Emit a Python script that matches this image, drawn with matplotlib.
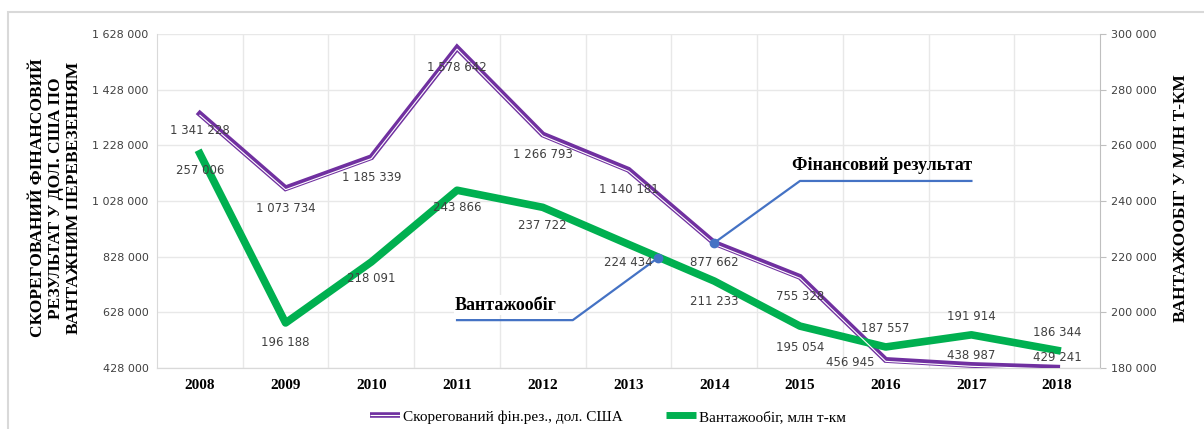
import numpy as np
import matplotlib
matplotlib.use('Agg')
import matplotlib.pyplot as plt
import matplotlib.transforms as mtransforms
from matplotlib.patches import Rectangle
from matplotlib.lines import Line2D
from matplotlib.legend_handler import HandlerTuple

#===data=======================================
years = ['2008', '2009', '2010', '2011', '2012', '2013', '2014', '2015', '2016', '2017', '2018']
fin_res = [1341228, 1073734, 1185339, 1578642, 1266793, 1140181, 877662, 755328, 456945, 438987, 429241]
freight = [257006, 196188, 218091, 243866, 237722, 224434, 211233, 195054, 187557, 191914, 186344]
left_ticks = [428000, 628000, 828000, 1028000, 1228000, 1428000, 1628000]
right_ticks = [180000, 200000, 220000, 240000, 260000, 280000, 300000]
# callout lines (x in category index, y on left axis)
callout1_x = [3, 4.35, 5.34]
callout1_y = [600000, 600000, 823000]
callout2_x = [6, 7, 9]
callout2_y = [877662, 1100000, 1100000]
# label offsets in pixels (dx, dy)
fin_off = [(0, -17), (0, -20), (0, -20), (0, -20), (0, -20), (0, -20), (0, -20), (0, -20), (-35, -3), (0, 9), (0, 10)]
fr_off = [(0, -17), (0, -20), (0, -17), (0, -17), (0, -18), (0, -18), (0, -20), (0, -21), (0, 18), (0, 18), (0, 18)]

def fmt(v):
  return '{:,}'.format(v).replace(',', ' ')

fig = plt.figure(figsize=(12.04, 4.29), dpi=100)
fig.patches.append(Rectangle((8/1204, -0.1), 1.2, 1-12/429+0.1, transform=fig.transFigure,
                             fill=False, edgecolor='#d9d9d9', lw=1.5))
ax = fig.add_axes([157/1204, 1-368/429, 943/1204, 334/429])
ax2 = ax.twinx()
x = np.arange(len(years))

ax.set_xlim(-0.5, len(years)-0.5)
ax.set_ylim(428000, 1628000)
ax2.set_ylim(180000, 300000)
ax.set_yticks(left_ticks)
ax.set_yticklabels([fmt(v) for v in left_ticks], fontsize=8, color='#404040')
ax2.set_yticks(right_ticks)
ax2.set_yticklabels([fmt(v) for v in right_ticks], fontsize=8, color='#404040')
ax.set_xticks(x)
ax.set_xticklabels(years, family='Liberation Serif', fontweight='bold', fontsize=11)
ax.tick_params(axis='y', length=0, pad=6)
ax.tick_params(axis='x', length=0, pad=8)
ax2.tick_params(axis='y', length=4, color='#bfbfbf', pad=4)
for a in (ax, ax2):
  a.spines['top'].set_visible(False)
  a.spines['left'].set_color('#d9d9d9')
  a.spines['right'].set_color('#bfbfbf')
  a.spines['bottom'].set_color('#d9d9d9')
ax.spines['right'].set_visible(False)
ax2.spines['left'].set_visible(False)

# grid
for v in left_ticks:
  ax.axhline(v, color='#e8e8e8', lw=1, zorder=0)
for b in np.arange(0.5, len(years)-1, 1.0):
  ax.axvline(b, color='#e8e8e8', lw=1, zorder=0)

def to2(v):
  #left-axis value -> right-axis value
  return ax2.transData.inverted().transform(ax.transData.transform((0, v)))[1]

# purple double line
ax2.plot(x, [to2(v) for v in fin_res], color='#7030a0', lw=4.2, zorder=3, solid_joinstyle='miter')
off = mtransforms.offset_copy(ax2.transData, fig=fig, x=0, y=-1.0, units='points')
ax2.plot(x, [to2(v) for v in fin_res], color='white', lw=0.8, zorder=4, transform=off)

# green line
ax2.plot(x, freight, color='#00b050', lw=5.5, zorder=3)
ax2.set_zorder(ax.get_zorder()+1)
ax2.patch.set_visible(False)

# callouts
for cx, cy, dot in [(callout1_x, callout1_y, -1), (callout2_x, callout2_y, 0)]:
  ax2.plot(cx, [to2(v) for v in cy], color='#4472c4', lw=1.6, zorder=5)
  ax2.plot([cx[dot]], [to2(cy[dot])], 'o', color='#4472c4', ms=6, zorder=6)

# labels
for i, v in enumerate(fin_res):
  ax2.annotate(fmt(v), xy=(i, to2(v)), xytext=fin_off[i], textcoords='offset pixels', ha='center', va='center',
               fontsize=8.5, color='#404040', zorder=7)
for i, v in enumerate(freight):
  ax2.annotate(fmt(v), xy=(i, v), xytext=fr_off[i], textcoords='offset pixels', ha='center', va='center',
               fontsize=8.5, color='#404040', zorder=7)

fig.text(506/1204, 1-305/429, 'Вантажообіг', family='Liberation Serif', fontweight='bold', fontsize=13,
         ha='center', va='center', bbox=dict(facecolor='white', edgecolor='none', pad=1), zorder=8)
fig.text(882/1204, 1-165/429, 'Фінансовий результат', family='Liberation Serif', fontweight='bold', fontsize=13,
         ha='center', va='center', zorder=8)

fig.text(56/1204, 1-198/429, 'СКОРЕГОВАНИЙ ФІНАНСОВИЙ\nРЕЗУЛЬТАТ У ДОЛ. США ПО\nВАНТАЖНИМ ПЕРЕВЕЗЕННЯМ',
         rotation=90, family='Liberation Serif', fontweight='bold', fontsize=12.5, ha='center', va='center',
         linespacing=1.2, multialignment='center')
fig.text(1181/1204, 1-198/429, 'ВАНТАЖООБІГ У МЛН Т-КМ', rotation=90, family='Liberation Serif',
         fontweight='bold', fontsize=12.5, ha='center', va='center')

# legend
h1 = (Line2D([], [], color='#7030a0', lw=4, solid_capstyle='butt'),
      Line2D([], [], color='white', lw=0.8, solid_capstyle='butt'))
h2 = Line2D([], [], color='#00b050', lw=5, solid_capstyle='butt')
fig.legend([h1, h2], ['Скорегований фін.рез., дол. США', 'Вантажообіг, млн т-км'],
           loc='center', bbox_to_anchor=(608/1204, 1-417/429), ncol=2, frameon=False,
           prop={'family': 'Liberation Serif', 'size': 11}, handlelength=2.0, columnspacing=2.8,
           handletextpad=0.2, handler_map={tuple: HandlerTuple(ndivide=1, pad=0)})

fig.savefig('out.png', dpi=100)
